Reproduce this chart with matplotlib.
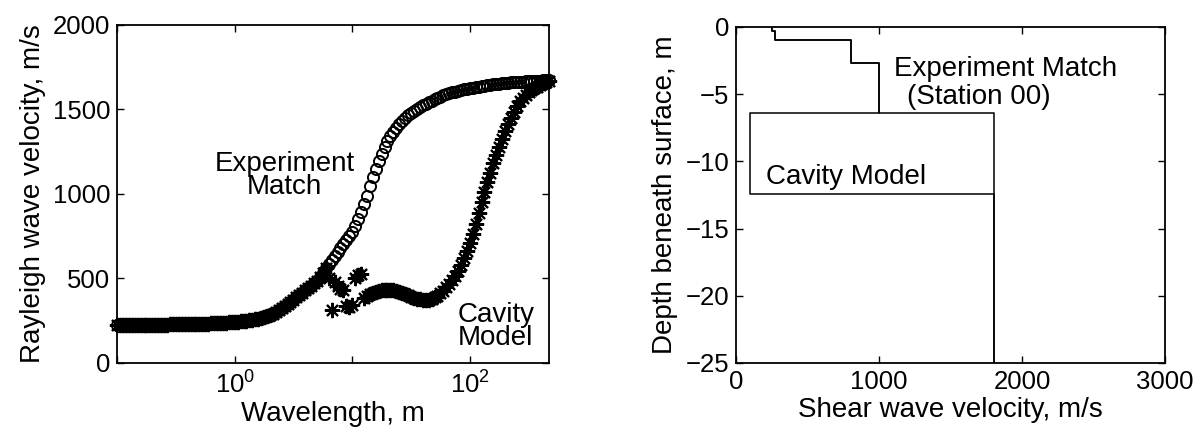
import matplotlib.pyplot as plt

plt.rcParams['font.family'] = ['Liberation Sans', 'DejaVu Sans']
plt.rcParams['mathtext.fontset'] = 'custom'
plt.rcParams['mathtext.rm'] = 'Liberation Sans'

# wavelength samples, m (40 per decade)
wavelength = [
    0.1, 0.1059, 0.1122, 0.1189, 0.1259, 0.1334, 0.1413, 0.1496, 0.1585, 0.1679,
    0.1778, 0.1884, 0.1995, 0.2113, 0.2239, 0.2371, 0.2512, 0.2661, 0.2818, 0.2985,
    0.3162, 0.3350, 0.3548, 0.3758, 0.3981, 0.4217, 0.4467, 0.4732, 0.5012, 0.5309,
    0.5623, 0.5957, 0.6310, 0.6683, 0.7079, 0.7499, 0.7943, 0.8414, 0.8913, 0.9441,
    1.0, 1.059, 1.122, 1.189, 1.259, 1.334, 1.413, 1.496, 1.585, 1.679,
    1.778, 1.884, 1.995, 2.113, 2.239, 2.371, 2.512, 2.661, 2.818, 2.985,
    3.162, 3.350, 3.548, 3.758, 3.981, 4.217, 4.467, 4.732, 5.012, 5.309,
    5.623, 5.957, 6.310, 6.683, 7.079, 7.499, 7.943, 8.414, 8.913, 9.441,
    10.0, 10.59, 11.22, 11.89, 12.59, 13.34, 14.13, 14.96, 15.85, 16.79,
    17.78, 18.84, 19.95, 21.13, 22.39, 23.71, 25.12, 26.61, 28.18, 29.85,
    31.62, 33.50, 35.48, 37.58, 39.81, 42.17, 44.67, 47.32, 50.12, 53.09,
    56.23, 59.57, 63.10, 66.83, 70.79, 74.99, 79.43, 84.14, 89.13, 94.41,
    100.0, 105.9, 112.2, 118.9, 125.9, 133.4, 141.3, 149.6, 158.5, 167.9,
    177.8, 188.4, 199.5, 211.3, 223.9, 237.1, 251.2, 266.1, 281.8, 298.5,
    316.2, 335.0, 354.8, 375.8, 398.1, 421.7, 446.7, 473.2,
]

# Rayleigh wave velocity, m/s - experiment match (circles)
v_experiment = [
    225, 225, 225, 225, 225, 225, 226, 226, 226, 226,
    226, 226, 227, 227, 227, 227, 227, 227, 228, 228,
    228, 228, 228, 229, 229, 229, 230, 230, 231, 232,
    232, 233, 234, 235, 236, 237, 238, 239, 240, 242,
    243, 245, 247, 249, 251, 254, 256, 259, 262, 266,
    271, 277, 284, 291, 300, 312, 325, 337, 349, 362,
    375, 389, 402, 416, 430, 443, 457, 471, 485, 509,
    534, 559, 585, 609, 632, 656, 680, 704, 727, 751,
    775, 810, 850, 893, 940, 990, 1045, 1098, 1150, 1195,
    1238, 1276, 1310, 1340, 1367, 1392, 1415, 1433, 1450, 1466,
    1480, 1492, 1504, 1515, 1525, 1534, 1543, 1552, 1560, 1568,
    1575, 1583, 1590, 1595, 1600, 1605, 1610, 1614, 1618, 1621,
    1625, 1628, 1631, 1634, 1637, 1640, 1643, 1645, 1648, 1650,
    1652, 1654, 1655, 1657, 1659, 1660, 1662, 1663, 1664, 1665,
    1666, 1667, 1668, 1669, 1670, 1671, 1672, 1673,
]

# Rayleigh wave velocity, m/s - cavity model (asterisks)
v_cavity = [
    225, 225, 225, 225, 225, 225, 226, 226, 226, 226,
    226, 226, 227, 227, 227, 227, 227, 227, 228, 228,
    228, 228, 228, 229, 229, 229, 230, 230, 231, 232,
    232, 233, 234, 235, 236, 237, 238, 239, 240, 242,
    243, 245, 247, 249, 251, 254, 256, 259, 262, 266,
    271, 277, 284, 291, 300, 312, 325, 337, 349, 362,
    375, 389, 402, 416, 430, 443, 457, 471, 485, 509,
    534, 559, 505, 314, 480, 455, 440, 432, 335, 333,
    340, 505, 520, 525, 385, 395, 405, 414, 420, 425,
    429, 432, 434, 434, 432, 428, 422, 415, 407, 399,
    392, 386, 381, 377, 375, 373, 375, 380, 388, 398,
    412, 428, 447, 468, 490, 516, 545, 581, 620, 663,
    710, 763, 820, 885, 950, 1010, 1070, 1126, 1180, 1231,
    1280, 1326, 1370, 1411, 1450, 1486, 1520, 1547, 1570, 1587,
    1600, 1613, 1625, 1635, 1645, 1654, 1662, 1670,
]

# shear wave velocity profiles (layer velocity, layer top depth)
exp_vs = [250, 270, 800, 1000, 1800]
exp_top = [0, -0.3, -1.0, -2.7, -6.4]
cav_vs = [250, 270, 800, 1000, 100, 1800]
cav_top = [0, -0.3, -1.0, -2.7, -6.4, -12.4]
max_depth = -25


def profile(vs, tops, bottom):
    xs, ys = [], []
    for i in range(len(vs)):
        b = tops[i + 1] if i + 1 < len(tops) else bottom
        xs += [vs[i], vs[i]]
        ys += [tops[i], b]
    return xs, ys


fig = plt.figure(figsize=(11.95, 4.28), dpi=100)
ax1 = fig.add_axes([0.098, 0.152, 0.3615, 0.79])
ax2 = fig.add_axes([0.616, 0.152, 0.359, 0.785])

fs = 20
tfs = 18.5

# left: dispersion curves
ax1.plot(wavelength, v_experiment, linestyle='none', marker='o', markersize=8,
         markerfacecolor='none', markeredgecolor='black', markeredgewidth=1.4,
         clip_on=False)
ax1.plot(wavelength, v_cavity, linestyle='none', marker=(8, 2, 0), markersize=11,
         markeredgecolor='black', markeredgewidth=1.5, clip_on=False)
ax1.set_xscale('log')
ax1.set_xlim(0.1, 473)
ax1.set_ylim(0, 2000)
ax1.set_xticks([0.1, 1, 10, 100])
ax1.set_xticklabels(['', '$10^0$', '', '$10^2$'])
ax1.minorticks_off()
ax1.set_yticks([0, 500, 1000, 1500, 2000])
ax1.set_xlabel('Wavelength, m', fontsize=fs, labelpad=2)
ax1.set_ylabel('Rayleigh wave velocity, m/s', fontsize=fs, labelpad=5)
ax1.text(2.66, 1107, 'Experiment\nMatch', fontsize=fs, ha='center', va='center',
         linespacing=0.85)
ax1.text(79, 213, 'Cavity\nModel', fontsize=fs, ha='left', va='center',
         linespacing=0.85)

# right: shear wave velocity profiles
xs, ys = profile(cav_vs, cav_top, max_depth)
ax2.plot(xs, ys, color='black', linewidth=1.1)
xs, ys = profile(exp_vs, exp_top, max_depth)
ax2.plot(xs, ys, color='black', linewidth=1.1)
ax2.set_xlim(0, 3000)
ax2.set_ylim(-25, 0)
ax2.set_xticks([0, 1000, 2000, 3000])
ax2.set_yticks([-25, -20, -15, -10, -5, 0])
ax2.set_xlabel('Shear wave velocity, m/s', fontsize=fs, labelpad=2)
ax2.set_ylabel('Depth beneath surface, m', fontsize=fs, labelpad=5)
ax2.text(1105, -3.1, 'Experiment Match', fontsize=fs, ha='left', va='center')
ax2.text(1197, -5.2, '(Station 00)', fontsize=fs, ha='left', va='center')
ax2.text(210, -11.2, 'Cavity Model', fontsize=fs, ha='left', va='center')

for ax in (ax1, ax2):
    ax.tick_params(direction='in', length=5, width=1, top=True, right=True,
                   labelsize=tfs, pad=5)
    for s in ax.spines.values():
        s.set_linewidth(1.3)

fig.savefig('out.png', dpi=100)
